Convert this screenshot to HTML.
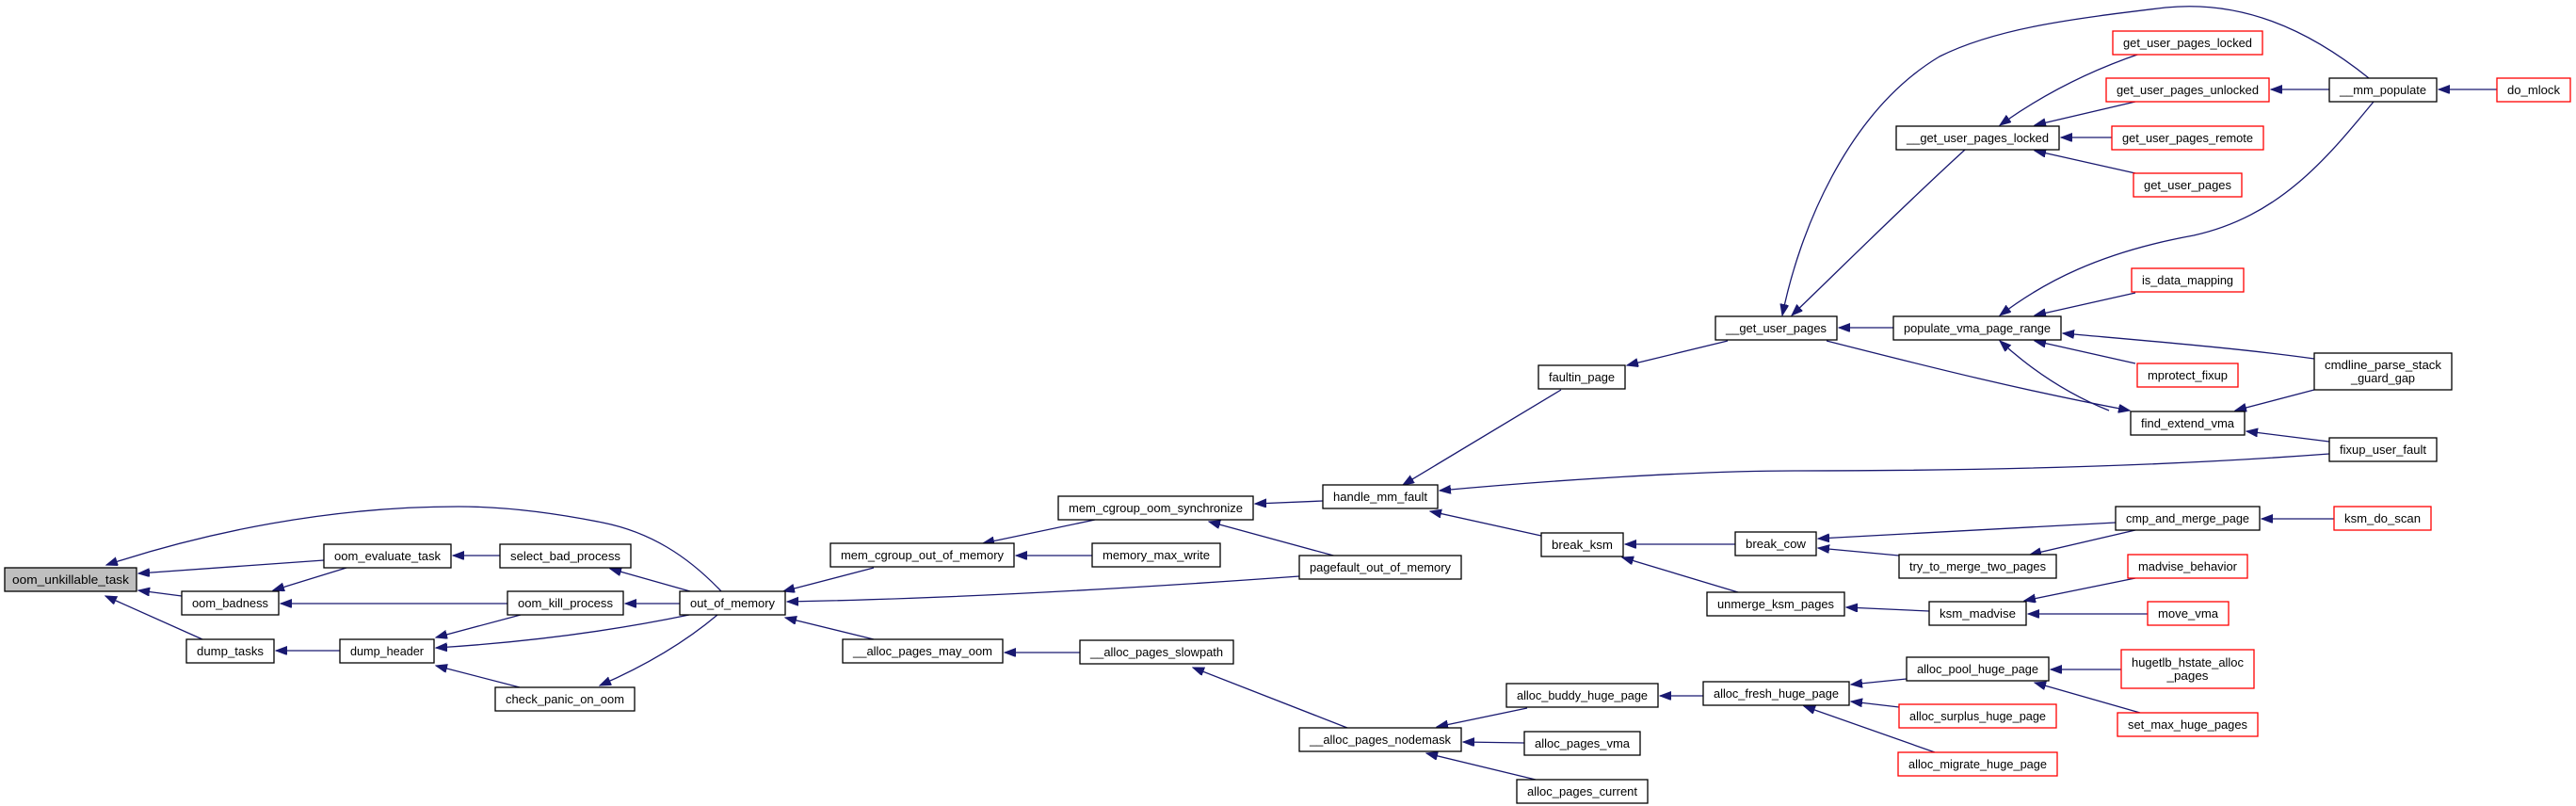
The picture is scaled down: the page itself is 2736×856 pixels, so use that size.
<!DOCTYPE html>
<html><head><meta charset="utf-8">
<style>
html,body{margin:0;padding:0;background:#fff;}
svg{display:block;}
text{font-family:"Liberation Sans",sans-serif;font-size:13px;fill:#000;}
.e{fill:none;stroke:#191970;stroke-width:1.3;marker-end:url(#a);}
.n{fill:#fff;stroke:#000;stroke-width:1.3;}
.r{fill:#fff;stroke:#ff0000;stroke-width:1.3;}
</style></head><body>
<svg width="2736" height="856" viewBox="0 0 2736 856" xmlns="http://www.w3.org/2000/svg">
<defs><marker id="a" markerUnits="userSpaceOnUse" markerWidth="13" markerHeight="10" refX="12" refY="4.5" orient="auto"><path d="M0,0 L12,4.5 L0,9 z" fill="#191970" stroke="#191970"/></marker></defs>

<!-- edges left -->
<path class="e" d="M766,628 C730,590 690,565 640,555 C580,543 530,538 487,538 C350,538 220,565 113,600"/>
<path class="e" d="M344,595 L147,609"/>
<path class="e" d="M193,633 L147,627"/>
<path class="e" d="M215,679 L112,633"/>
<path class="e" d="M531,590 L481,590"/>
<path class="e" d="M368,603 L290,627"/>
<path class="e" d="M539,641 L298,641"/>
<path class="e" d="M553,653 L463,677"/>
<path class="e" d="M732,653 C650,670 560,682 463,688"/>
<path class="e" d="M552,730 L463,707"/>
<path class="e" d="M361,691 L293,691"/>
<path class="e" d="M733,628 L648,604"/>
<path class="e" d="M722,641 L664,641"/>
<path class="e" d="M762,653 C730,680 690,705 637,728"/>
<path class="e" d="M928,603 L832,628"/>
<path class="e" d="M1380,612 C1200,625 1000,636 836,639"/>
<path class="e" d="M928,679 L834,656"/>
<!-- edges middle -->
<path class="e" d="M1163,552 L1044,577"/>
<path class="e" d="M1160,590 L1079,590"/>
<path class="e" d="M1405,532 L1333,535"/>
<path class="e" d="M1420,591 L1284,554"/>
<path class="e" d="M1147,693 L1067,693"/>
<path class="e" d="M1431,773 L1267,709"/>
<path class="e" d="M1658,414 L1490,515"/>
<path class="e" d="M2474,482 C2300,495 2100,500 1910,500 C1800,500 1650,510 1529,521"/>
<path class="e" d="M1637,569 L1519,543"/>
<path class="e" d="M1835,362 L1728,388"/>
<path class="e" d="M1843,578 L1726,578"/>
<path class="e" d="M1846,629 L1723,592"/>
<path class="e" d="M1622,752 L1526,772"/>
<path class="e" d="M1619,789 L1554,788"/>
<path class="e" d="M1631,828 L1515,800"/>
<path class="e" d="M1809,739 L1763,739"/>
<!-- edges right -->
<path class="e" d="M2087,159 C2020,220 1950,290 1903,335"/>
<path class="e" d="M2516,83 C2450,30 2380,0 2300,8 C2200,20 2120,30 2060,60 C1960,120 1910,250 1893,335"/>
<path class="e" d="M2011,348 L1953,348"/>
<path class="e" d="M1940,362 C2050,390 2150,415 2262,436"/>
<path class="e" d="M2240,436 C2200,420 2160,395 2124,362"/>
<path class="e" d="M2273,57 C2220,75 2170,100 2124,133"/>
<path class="e" d="M2268,108 L2161,133"/>
<path class="e" d="M2243,146 L2189,146"/>
<path class="e" d="M2268,184 L2161,160"/>
<path class="e" d="M2474,95 L2412,95"/>
<path class="e" d="M2652,95 L2590,95"/>
<path class="e" d="M2521,108 C2470,170 2420,230 2330,250 C2230,268 2170,300 2124,335"/>
<path class="e" d="M2268,311 L2161,335"/>
<path class="e" d="M2268,386 L2161,362"/>
<path class="e" d="M2458,381 C2380,370 2280,362 2191,354"/>
<path class="e" d="M2458,414 L2374,436"/>
<path class="e" d="M2474,469 L2386,458"/>
<path class="e" d="M2247,555 L1931,572"/>
<path class="e" d="M2017,590 L1931,582"/>
<path class="e" d="M2268,563 L2156,589"/>
<path class="e" d="M2479,551 L2402,551"/>
<path class="e" d="M2049,649 L1961,645"/>
<path class="e" d="M2268,614 L2150,638"/>
<path class="e" d="M2281,652 L2154,652"/>
<path class="e" d="M2025,721 L1966,727"/>
<path class="e" d="M2017,751 L1966,745"/>
<path class="e" d="M2055,799 L1916,750"/>
<path class="e" d="M2253,711 L2178,711"/>
<path class="e" d="M2273,757 L2161,725"/>

<!-- nodes -->
<rect x="5" y="603" width="140" height="25" fill="#bfbfbf" stroke="#000" stroke-width="1.3"/><text x="75" y="620" text-anchor="middle" textLength="124" lengthAdjust="spacingAndGlyphs">oom_unkillable_task</text>
<rect class="n" x="344" y="578" width="135" height="25"/><text x="411.5" y="595" text-anchor="middle" textLength="113" lengthAdjust="spacingAndGlyphs">oom_evaluate_task</text>
<rect class="n" x="531" y="578" width="139" height="25"/><text x="600.5" y="595" text-anchor="middle" textLength="117" lengthAdjust="spacingAndGlyphs">select_bad_process</text>
<rect class="n" x="193" y="628" width="103" height="25"/><text x="244.5" y="645" text-anchor="middle" textLength="81" lengthAdjust="spacingAndGlyphs">oom_badness</text>
<rect class="n" x="539" y="628" width="123" height="25"/><text x="600.5" y="645" text-anchor="middle" textLength="101" lengthAdjust="spacingAndGlyphs">oom_kill_process</text>
<rect class="n" x="198" y="679" width="93" height="25"/><text x="244.5" y="696" text-anchor="middle" textLength="71" lengthAdjust="spacingAndGlyphs">dump_tasks</text>
<rect class="n" x="361" y="679" width="100" height="25"/><text x="411" y="696" text-anchor="middle" textLength="78" lengthAdjust="spacingAndGlyphs">dump_header</text>
<rect class="n" x="526" y="730" width="148" height="25"/><text x="600" y="747" text-anchor="middle" textLength="126" lengthAdjust="spacingAndGlyphs">check_panic_on_oom</text>
<rect class="n" x="722" y="628" width="112" height="25"/><text x="778" y="645" text-anchor="middle" textLength="90" lengthAdjust="spacingAndGlyphs">out_of_memory</text>

<rect class="n" x="1124" y="527" width="207" height="25"/><text x="1227.5" y="544" text-anchor="middle" textLength="185" lengthAdjust="spacingAndGlyphs">mem_cgroup_oom_synchronize</text>
<rect class="n" x="882" y="577" width="195" height="25"/><text x="979.5" y="594" text-anchor="middle" textLength="173" lengthAdjust="spacingAndGlyphs">mem_cgroup_out_of_memory</text>
<rect class="n" x="1160" y="577" width="136" height="25"/><text x="1228" y="594" text-anchor="middle" textLength="114" lengthAdjust="spacingAndGlyphs">memory_max_write</text>
<rect class="n" x="1380" y="590" width="172" height="25"/><text x="1466" y="607" text-anchor="middle" textLength="150" lengthAdjust="spacingAndGlyphs">pagefault_out_of_memory</text>
<rect class="n" x="895" y="679" width="170" height="25"/><text x="980" y="696" text-anchor="middle" textLength="148" lengthAdjust="spacingAndGlyphs">__alloc_pages_may_oom</text>
<rect class="n" x="1147" y="680" width="163" height="25"/><text x="1228.5" y="697" text-anchor="middle" textLength="141" lengthAdjust="spacingAndGlyphs">__alloc_pages_slowpath</text>
<rect class="n" x="1405" y="515" width="122" height="25"/><text x="1466" y="532" text-anchor="middle" textLength="100" lengthAdjust="spacingAndGlyphs">handle_mm_fault</text>
<rect class="n" x="1634" y="388" width="92" height="25"/><text x="1680" y="405" text-anchor="middle" textLength="70" lengthAdjust="spacingAndGlyphs">faultin_page</text>
<rect class="n" x="1637" y="566" width="87" height="25"/><text x="1680.5" y="583" text-anchor="middle" textLength="65" lengthAdjust="spacingAndGlyphs">break_ksm</text>
<rect class="n" x="1380" y="773" width="172" height="25"/><text x="1466" y="790" text-anchor="middle" textLength="150" lengthAdjust="spacingAndGlyphs">__alloc_pages_nodemask</text>
<rect class="n" x="1600" y="726" width="161" height="25"/><text x="1680.5" y="743" text-anchor="middle" textLength="139" lengthAdjust="spacingAndGlyphs">alloc_buddy_huge_page</text>
<rect class="n" x="1619" y="777" width="123" height="25"/><text x="1680.5" y="794" text-anchor="middle" textLength="101" lengthAdjust="spacingAndGlyphs">alloc_pages_vma</text>
<rect class="n" x="1611" y="828" width="139" height="25"/><text x="1680.5" y="845" text-anchor="middle" textLength="117" lengthAdjust="spacingAndGlyphs">alloc_pages_current</text>
<rect class="n" x="1822" y="336" width="129" height="25"/><text x="1886.5" y="353" text-anchor="middle" textLength="107" lengthAdjust="spacingAndGlyphs">__get_user_pages</text>
<rect class="n" x="1843" y="565" width="86" height="25"/><text x="1886" y="582" text-anchor="middle" textLength="64" lengthAdjust="spacingAndGlyphs">break_cow</text>
<rect class="n" x="1813" y="629" width="146" height="25"/><text x="1886" y="646" text-anchor="middle" textLength="124" lengthAdjust="spacingAndGlyphs">unmerge_ksm_pages</text>
<rect class="n" x="1809" y="724" width="155" height="25"/><text x="1886.5" y="741" text-anchor="middle" textLength="133" lengthAdjust="spacingAndGlyphs">alloc_fresh_huge_page</text>

<rect class="r" x="2244" y="33" width="159" height="25"/><text x="2323.5" y="50" text-anchor="middle" textLength="137" lengthAdjust="spacingAndGlyphs">get_user_pages_locked</text>
<rect class="r" x="2237" y="83" width="173" height="25"/><text x="2323.5" y="100" text-anchor="middle" textLength="151" lengthAdjust="spacingAndGlyphs">get_user_pages_unlocked</text>
<rect class="n" x="2474" y="83" width="114" height="25"/><text x="2531" y="100" text-anchor="middle" textLength="92" lengthAdjust="spacingAndGlyphs">__mm_populate</text>
<rect class="r" x="2652" y="83" width="78" height="25"/><text x="2691" y="100" text-anchor="middle" textLength="56" lengthAdjust="spacingAndGlyphs">do_mlock</text>
<rect class="n" x="2014" y="134" width="173" height="25"/><text x="2100.5" y="151" text-anchor="middle" textLength="151" lengthAdjust="spacingAndGlyphs">__get_user_pages_locked</text>
<rect class="r" x="2243" y="134" width="161" height="25"/><text x="2323.5" y="151" text-anchor="middle" textLength="139" lengthAdjust="spacingAndGlyphs">get_user_pages_remote</text>
<rect class="r" x="2266" y="184" width="115" height="25"/><text x="2323.5" y="201" text-anchor="middle" textLength="93" lengthAdjust="spacingAndGlyphs">get_user_pages</text>
<rect class="r" x="2264" y="285" width="119" height="25"/><text x="2323.5" y="302" text-anchor="middle" textLength="97" lengthAdjust="spacingAndGlyphs">is_data_mapping</text>
<rect class="n" x="2011" y="336" width="178" height="25"/><text x="2100" y="353" text-anchor="middle" textLength="156" lengthAdjust="spacingAndGlyphs">populate_vma_page_range</text>
<rect class="r" x="2270" y="386" width="107" height="25"/><text x="2323.5" y="403" text-anchor="middle" textLength="85" lengthAdjust="spacingAndGlyphs">mprotect_fixup</text>
<rect class="n" x="2458" y="375" width="146" height="39"/><text x="2531" y="392" text-anchor="middle" textLength="124" lengthAdjust="spacingAndGlyphs">cmdline_parse_stack</text><text x="2531" y="406" text-anchor="middle" textLength="68" lengthAdjust="spacingAndGlyphs">_guard_gap</text>
<rect class="n" x="2263" y="437" width="121" height="25"/><text x="2323.5" y="454" text-anchor="middle" textLength="99" lengthAdjust="spacingAndGlyphs">find_extend_vma</text>
<rect class="n" x="2474" y="465" width="114" height="25"/><text x="2531" y="482" text-anchor="middle" textLength="92" lengthAdjust="spacingAndGlyphs">fixup_user_fault</text>
<rect class="n" x="2247" y="538" width="153" height="25"/><text x="2323.5" y="555" text-anchor="middle" textLength="131" lengthAdjust="spacingAndGlyphs">cmp_and_merge_page</text>
<rect class="r" x="2479" y="538" width="103" height="25"/><text x="2530.5" y="555" text-anchor="middle" textLength="81" lengthAdjust="spacingAndGlyphs">ksm_do_scan</text>
<rect class="n" x="2017" y="589" width="167" height="25"/><text x="2100.5" y="606" text-anchor="middle" textLength="145" lengthAdjust="spacingAndGlyphs">try_to_merge_two_pages</text>
<rect class="r" x="2260" y="589" width="127" height="25"/><text x="2323.5" y="606" text-anchor="middle" textLength="105" lengthAdjust="spacingAndGlyphs">madvise_behavior</text>
<rect class="n" x="2049" y="639" width="103" height="25"/><text x="2100.5" y="656" text-anchor="middle" textLength="81" lengthAdjust="spacingAndGlyphs">ksm_madvise</text>
<rect class="r" x="2281" y="639" width="86" height="25"/><text x="2324" y="656" text-anchor="middle" textLength="64" lengthAdjust="spacingAndGlyphs">move_vma</text>
<rect class="n" x="2025" y="698" width="151" height="25"/><text x="2100.5" y="715" text-anchor="middle" textLength="129" lengthAdjust="spacingAndGlyphs">alloc_pool_huge_page</text>
<rect class="r" x="2253" y="690" width="141" height="41"/><text x="2323.5" y="708" text-anchor="middle" textLength="119" lengthAdjust="spacingAndGlyphs">hugetlb_hstate_alloc</text><text x="2323.5" y="722" text-anchor="middle" textLength="44" lengthAdjust="spacingAndGlyphs">_pages</text>
<rect class="r" x="2017" y="748" width="167" height="25"/><text x="2100.5" y="765" text-anchor="middle" textLength="145" lengthAdjust="spacingAndGlyphs">alloc_surplus_huge_page</text>
<rect class="r" x="2249" y="757" width="149" height="25"/><text x="2323.5" y="774" text-anchor="middle" textLength="127" lengthAdjust="spacingAndGlyphs">set_max_huge_pages</text>
<rect class="r" x="2016" y="799" width="169" height="25"/><text x="2100.5" y="816" text-anchor="middle" textLength="147" lengthAdjust="spacingAndGlyphs">alloc_migrate_huge_page</text>
</svg>
</body></html>
